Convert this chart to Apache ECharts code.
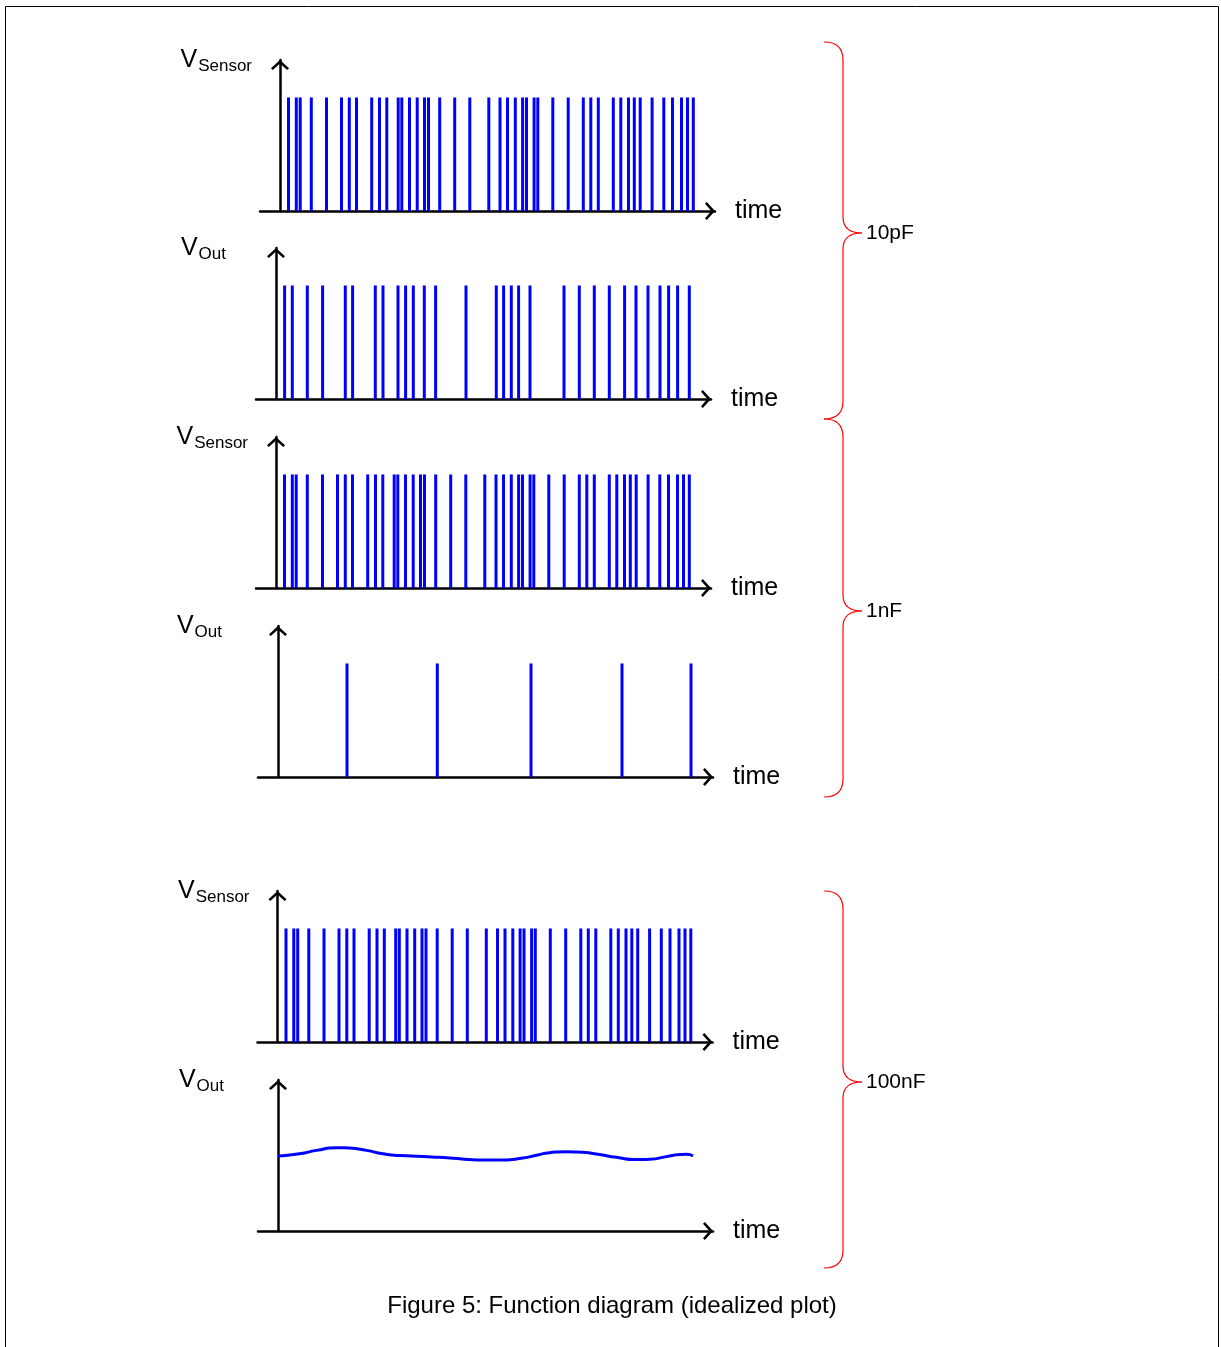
<!DOCTYPE html>
<html>
<head>
<meta charset="utf-8">
<script src="https://cdn.jsdelivr.net/npm/echarts@6/dist/echarts.min.js"></script>
<style>
html,body{margin:0;padding:0;background:#fff;}
#chart{width:1221px;height:1347px;}
</style>
</head>
<body>
<div id="chart"></div>
<script>
// ---- data (time in arbitrary units from the y axis, level 1 = pulse height) ----
const sensorPulseTimes = [8.5, 16.3, 20.2, 31.3, 46.5, 61.5, 69.3, 76.5, 91.7, 99.5, 106.8, 118.2, 121.8, 129.5, 137.2, 144.5, 148.5, 159.7, 174.7, 189.8, 208.8, 220, 227.5, 235.3, 242.6, 246.5, 254.1, 257.8, 272.8, 288.2, 303.3, 310.8, 318.3, 333.3, 340.8, 348.5, 354.3, 360.2, 372.1, 383.8, 392.5, 401.5, 407.5, 413.3];
const out10pFTimes = [8.6, 16.3, 31.3, 46.6, 69.3, 76.6, 99.3, 107, 122, 129.6, 137.3, 148.3, 159.6, 190, 220.3, 227.6, 235.3, 242.6, 254, 288, 303.3, 318.3, 333.3, 348.6, 360, 372, 384, 392.6, 401.6, 413.3];
const out1nFTimes = [69, 159.3, 253, 344, 413];
const out100nFTimes = [0, 21.7, 38.4, 58.4, 71.7, 88.4, 105, 121.7, 145, 171.7, 205, 225, 245, 258.4, 271.7, 288.4, 305, 321.7, 338.4, 358.4, 371.7, 388.4, 401.7, 408.4, 415];
const out100nFLevels = [0.66, 0.68, 0.71, 0.734, 0.73, 0.71, 0.68, 0.664, 0.657, 0.643, 0.625, 0.625, 0.643, 0.667, 0.69, 0.699, 0.693, 0.673, 0.649, 0.629, 0.632, 0.655, 0.673, 0.675, 0.66];
const pulseLevel = 1;
const yLabels = ['Sensor', 'Out', 'Sensor', 'Out', 'Sensor', 'Out'];
const xLabel = 'time';
const groupLabels = ['10pF', '1nF', '100nF'];
const caption = 'Figure 5: Function diagram (idealized plot)';

// ---- layout ----
const FONT = '"Liberation Sans", Arial, Helvetica, sans-serif';
const panels = [
  {top: 60,  axisX: 280,   pad: 28, kind: 'pulse', data: sensorPulseTimes},
  {top: 248, axisX: 276,   pad: 50, kind: 'pulse', data: out10pFTimes},
  {top: 437, axisX: 276,   pad: 28, kind: 'pulse', data: sensorPulseTimes},
  {top: 626, axisX: 278,   pad: 56, kind: 'pulse', data: out1nFTimes},
  {top: 891, axisX: 277.5, pad: 28, kind: 'pulse', data: sensorPulseTimes},
  {top: 1080, axisX: 278,  pad: 54, kind: 'curve'}
];
const T_MIN = -20, T_MAX = 435, PANEL_H = 151, Y_MAX = 1.33;
const BLUE = '#0000ff';
const arrowPath = 'path://M9,0 L18,8.2 L16.2,10 L9,3.6 L1.8,10 L0,8.2 Z';
const arrowSize = [18, 10];

const grids = [], xAxes = [], yAxes = [], series = [];
panels.forEach((p, i) => {
  grids.push({left: p.axisX + T_MIN, width: T_MAX - T_MIN, top: p.top, height: PANEL_H});
  xAxes.push({
    gridIndex: i, type: 'value', min: T_MIN, max: T_MAX,
    axisLine: {show: true, onZero: false, lineStyle: {color: '#000', width: 2.5},
      symbol: ['none', arrowPath], symbolSize: arrowSize, symbolOffset: [0, -5]},
    axisTick: {show: false}, axisLabel: {show: false}, splitLine: {show: false},
    name: xLabel, nameLocation: 'end', nameGap: 20,
    nameTextStyle: {fontSize: 25, color: '#000', fontFamily: FONT}
  });
  yAxes.push({
    gridIndex: i, type: 'value', min: 0, max: Y_MAX,
    axisLine: {show: true, onZero: true, lineStyle: {color: '#000', width: 2.5},
      symbol: ['none', arrowPath], symbolSize: arrowSize, symbolOffset: [0, -5]},
    axisTick: {show: false}, axisLabel: {show: false}, splitLine: {show: false},
    name: '{v|V}{s|' + yLabels[i] + '}', nameLocation: 'end', nameGap: -15,
    nameTextStyle: {
      align: 'right', verticalAlign: 'bottom', padding: [0, p.pad, 0, 0],
      rich: {
        v: {fontSize: 25, color: '#000', fontFamily: FONT, verticalAlign: 'top', lineHeight: 26, padding: [0, 1, 0, 0]},
        s: {fontSize: 17, color: '#000', fontFamily: FONT, verticalAlign: 'top', padding: [10, 0, 0, 0]}
      }
    }
  });
  if (p.kind === 'pulse') {
    series.push({
      type: 'custom', xAxisIndex: i, yAxisIndex: i,
      data: p.data.map(t => [t, pulseLevel]),
      encode: {x: 0, y: 1},
      renderItem: function (params, api) {
        const a = api.coord([api.value(0), 0]);
        const b = api.coord([api.value(0), api.value(1)]);
        return {type: 'line', shape: {x1: a[0], y1: a[1], x2: b[0], y2: b[1]},
          style: {stroke: BLUE, lineWidth: 3, lineCap: 'butt'}};
      }
    });
  } else {
    series.push({
      type: 'line', xAxisIndex: i, yAxisIndex: i, smooth: 0.6, symbol: 'none',
      lineStyle: {color: BLUE, width: 3},
      data: out100nFTimes.map((t, k) => [t, out100nFLevels[k]])
    });
  }
});

const braceStyle = {fill: 'none', stroke: '#ff0000', lineWidth: 1.2};
function braceParts(y0, ym, y1) {
  const xl = 824, xv = 843, xt = 862;
  return [
    {type: 'bezierCurve', shape: {x1: xl, y1: y0, cpx1: xv, cpy1: y0, x2: xv, y2: y0 + 18}, style: braceStyle},
    {type: 'line', shape: {x1: xv, y1: y0 + 18, x2: xv, y2: ym - 16}, style: braceStyle},
    {type: 'bezierCurve', shape: {x1: xv, y1: ym - 16, cpx1: xv, cpy1: ym, x2: xt, y2: ym}, style: braceStyle},
    {type: 'bezierCurve', shape: {x1: xt, y1: ym, cpx1: xv, cpy1: ym, x2: xv, y2: ym + 16}, style: braceStyle},
    {type: 'line', shape: {x1: xv, y1: ym + 16, x2: xv, y2: y1 - 18}, style: braceStyle},
    {type: 'bezierCurve', shape: {x1: xv, y1: y1 - 18, cpx1: xv, cpy1: y1, x2: xl, y2: y1}, style: braceStyle}
  ];
}
const braces = [[42, 233, 419], [419, 611, 797], [891, 1082, 1268]];
const graphics = [
  {type: 'rect', shape: {x: 5.5, y: 6.5, width: 1213, height: 1350}, style: {fill: 'none', stroke: '#000', lineWidth: 1}, silent: true}
];
braces.forEach((b, k) => {
  braceParts(b[0], b[1], b[2]).forEach(el => graphics.push(el));
  graphics.push({type: 'text', x: 866, y: b[1], style: {text: groupLabels[k], fontSize: 21, fontFamily: FONT, fill: '#000', textAlign: 'left', textVerticalAlign: 'middle'}});
});
graphics.push({type: 'text', x: 612, y: 1306, style: {text: caption, fontSize: 24, fontFamily: FONT, fill: '#000', textAlign: 'center', textVerticalAlign: 'middle'}});

const chart = echarts.init(document.getElementById('chart'), null, {renderer: 'canvas'});
chart.setOption({
  backgroundColor: '#fff',
  animation: false,
  grid: grids, xAxis: xAxes, yAxis: yAxes, series: series,
  graphic: graphics
});
</script>
</body>
</html>
